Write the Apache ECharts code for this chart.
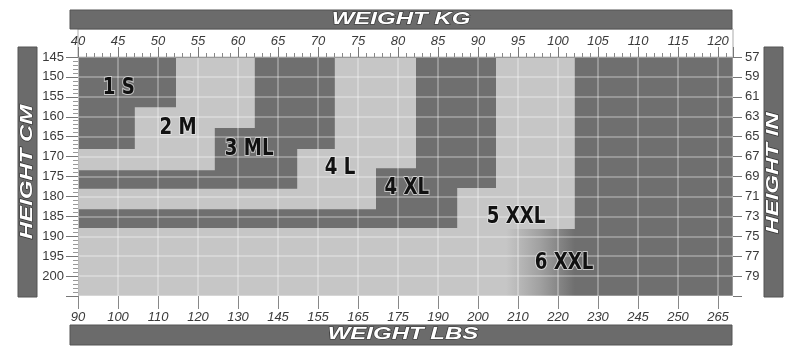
<!DOCTYPE html>
<html><head><meta charset="utf-8">
<script src="https://cdn.jsdelivr.net/npm/echarts@6/dist/echarts.min.js"></script>
<style>html,body{margin:0;padding:0;background:#fff}#c{width:800px;height:354px}</style>
</head><body><div id="c"></div>
<script>
// ---- data ----
const kgTicks = [40,45,50,55,60,65,70,75,80,85,90,95,100,105,110,115,120];
const lbsLabels = ['90','100','110','120','130','145','155','165','175','190','200','210','220','230','245','250','265'];
const cmTicks = [145,150,155,160,165,170,175,180,185,190,195,200];
const inLabels = ['57','59','61','63','65','67','69','71','73','75','77','79'];
const sizeNames = ['1 S','2 M','3 ML','4 L','4 XL','5 XXL','6 XXL'];
// staircase boundary between size i and size i+1
const stepTopKg = [52.25, 62.1, 72.1, 82.25, 92.25, 102.1];
const stepMidCm = [157.6, 162.8, 168.1, 172.9, 177.9, 188.2];
const stepMidKg = [47.1, 57.1, 67.4, 77.25, 87.4];
const stepLowCm = [168.1, 173.4, 178.1, 183.2, 187.9];
const blendKg = [93.5, 102.1];           // 5 XXL -> 6 XXL fade in the lowest rows
const labelKg = [45.1, 52.5, 61.4, 72.75, 81.1, 94.75, 100.75];
const labelCm = [152.8, 162.8, 168.1, 172.9, 177.9, 185.2, 196.7];
const kgMin = 40, kgMax = 121.875, cmMin = 145, cmMax = 205;

// ---- style ----
const DARK = '#6f6f6f', LIGHT = '#c6c6c6', BAR = '#6b6b6b';
const FONT = '"Liberation Sans", Arial, sans-serif';
const NARROW = '"Liberation Sans Narrow", "DejaVu Sans Condensed", "Liberation Sans", sans-serif';

const chart = echarts.init(document.getElementById('c'), null, {renderer: 'canvas'});
const drawOrder = [6,5,4,3,2,1,0];

function regionItem(params, api) {
  const s = drawOrder[params.dataIndex];
  const fill = s % 2 === 0 ? DARK : LIGHT;
  const c = (x, y) => api.coord([x, y]);
  if (s === 6) {
    const pts = [c(kgMin,cmMin), c(kgMax,cmMin), c(kgMax,cmMax), c(kgMin,cmMax)];
    return {type:'polygon', shape:{points:pts}, style:{fill}};
  }
  if (s === 5) {
    const up = [c(kgMin,cmMin), c(stepTopKg[5],cmMin), c(stepTopKg[5],stepMidCm[5]), c(kgMin,stepMidCm[5])];
    const low = [c(kgMin,stepMidCm[5]), c(kgMax,stepMidCm[5]), c(kgMax,cmMax), c(kgMin,cmMax)];
    const g1 = c(blendKg[0], cmMax), g2 = c(blendKg[1], cmMax);
    return {type:'group', children:[
      {type:'polygon', shape:{points:up}, style:{fill}},
      {type:'polygon', shape:{points:low}, style:{fill: new echarts.graphic.LinearGradient(g1[0],0,g2[0],0,
        [{offset:0,color:LIGHT},{offset:0.5,color:'#a0a0a0'},{offset:1,color:DARK}], true)}}
    ]};
  }
  const pts = [c(kgMin,cmMin), c(stepTopKg[s],cmMin), c(stepTopKg[s],stepMidCm[s]),
               c(stepMidKg[s],stepMidCm[s]), c(stepMidKg[s],stepLowCm[s]), c(kgMin,stepLowCm[s])];
  return {type:'polygon', shape:{points:pts}, style:{fill}};
}

function labelItem(params, api) {
  const i = params.dataIndex;
  const p = api.coord([labelKg[i], labelCm[i]]);
  return {type:'text', x:p[0], y:p[1], scaleX:0.88, style:{text:sizeNames[i], font:'bold 23px ' + NARROW,
    fill:'#111', stroke:'rgba(235,235,235,0.7)', lineWidth:2, align:'center', verticalAlign:'middle'}};
}

const gridLine = {show:true, lineStyle:{color:'rgba(255,255,255,0.38)', width:1.5}};
const tickLabel = {color:'#3a3a3a', fontFamily:FONT, fontSize:13};

const bar = (x,y,w,h) => ({type:'rect', shape:{x,y,width:w,height:h}, style:{fill:BAR, stroke:'#555', lineWidth:1}, z:1});
const barText = (txt, x, y, rot) => ({type:'text', x, y, rotation:rot||0, scaleX:1.5, z:2,
  style:{text:txt, font:'italic bold 16px ' + FONT, fill:'#fff', stroke:'#333', lineWidth:1,
    align:'center', verticalAlign:'middle', textAlign:'center', textVerticalAlign:'middle'}});

chart.setOption({
  animation:false,
  backgroundColor:'#fff',
  grid:{left:78, right:67, top:57, bottom:58, containLabel:false},
  xAxis:[
    {type:'value', position:'top', min:kgMin, max:kgMax, interval:5, z:5,
     axisLine:{show:true, lineStyle:{color:'#999'}},
     axisTick:{show:true, length:10, lineStyle:{color:'#777'}},
     minorTick:{show:true, splitNumber:5, length:4, lineStyle:{color:'#888'}},
     splitLine:gridLine,
     axisLabel:Object.assign({}, tickLabel, {fontStyle:'italic', margin:9, showMaxLabel:false,
       formatter:v => kgTicks.indexOf(v) >= 0 ? String(v) : ''})},
    {type:'value', position:'bottom', min:kgMin, max:kgMax, interval:5, z:5,
     axisLine:{show:false},
     axisTick:{show:true, length:13, lineStyle:{color:'#888'}},
     splitLine:{show:false},
     axisLabel:Object.assign({}, tickLabel, {fontStyle:'italic', margin:15, showMaxLabel:false,
       formatter:v => { const i = kgTicks.indexOf(v); return i >= 0 ? lbsLabels[i] : ''; }})}
  ],
  yAxis:[
    {type:'value', position:'left', inverse:true, min:cmMin, max:cmMax, interval:5, z:5,
     axisLine:{show:true, lineStyle:{color:'#bbb'}},
     axisTick:{show:true, length:12, lineStyle:{color:'#777'}},
     minorTick:{show:true, splitNumber:5, length:5, lineStyle:{color:'#999'}},
     splitLine:gridLine,
     axisLabel:Object.assign({}, tickLabel, {margin:14,
       formatter:v => cmTicks.indexOf(v) >= 0 ? String(v) : ''})},
    {type:'value', position:'right', inverse:true, min:cmMin, max:cmMax, interval:5, z:5,
     axisLine:{show:false},
     axisTick:{show:true, length:9, lineStyle:{color:'#777'}},
     splitLine:{show:false},
     axisLabel:Object.assign({}, tickLabel, {margin:12,
       formatter:v => { const i = cmTicks.indexOf(v); return i >= 0 ? inLabels[i] : ''; }})}
  ],
  series:[
    {type:'custom', coordinateSystem:'cartesian2d', xAxisIndex:0, yAxisIndex:0, clip:false, z:2,
     renderItem:regionItem, data:drawOrder.map(i => [kgMin, cmMin]), silent:true},
    {type:'custom', coordinateSystem:'cartesian2d', xAxisIndex:0, yAxisIndex:0, clip:false, z:8,
     renderItem:labelItem, data:sizeNames.map((n,i) => [labelKg[i], labelCm[i]]), silent:true}
  ],
  graphic:[
    {type:'rect', shape:{x:78, y:29, width:655, height:28}, style:{fill:'none', stroke:'#aaa', lineWidth:1}, z:0},
    bar(70, 10, 662, 19), barText('WEIGHT KG', 401, 19.5),
    bar(70, 325, 662, 20), barText('WEIGHT LBS', 403, 335),
    bar(18, 47, 19, 250), barText('HEIGHT CM', 27.5, 172, Math.PI/2),
    bar(764, 47, 19, 250), barText('HEIGHT IN', 773.5, 173, Math.PI/2)
  ]
});
</script></body></html>
